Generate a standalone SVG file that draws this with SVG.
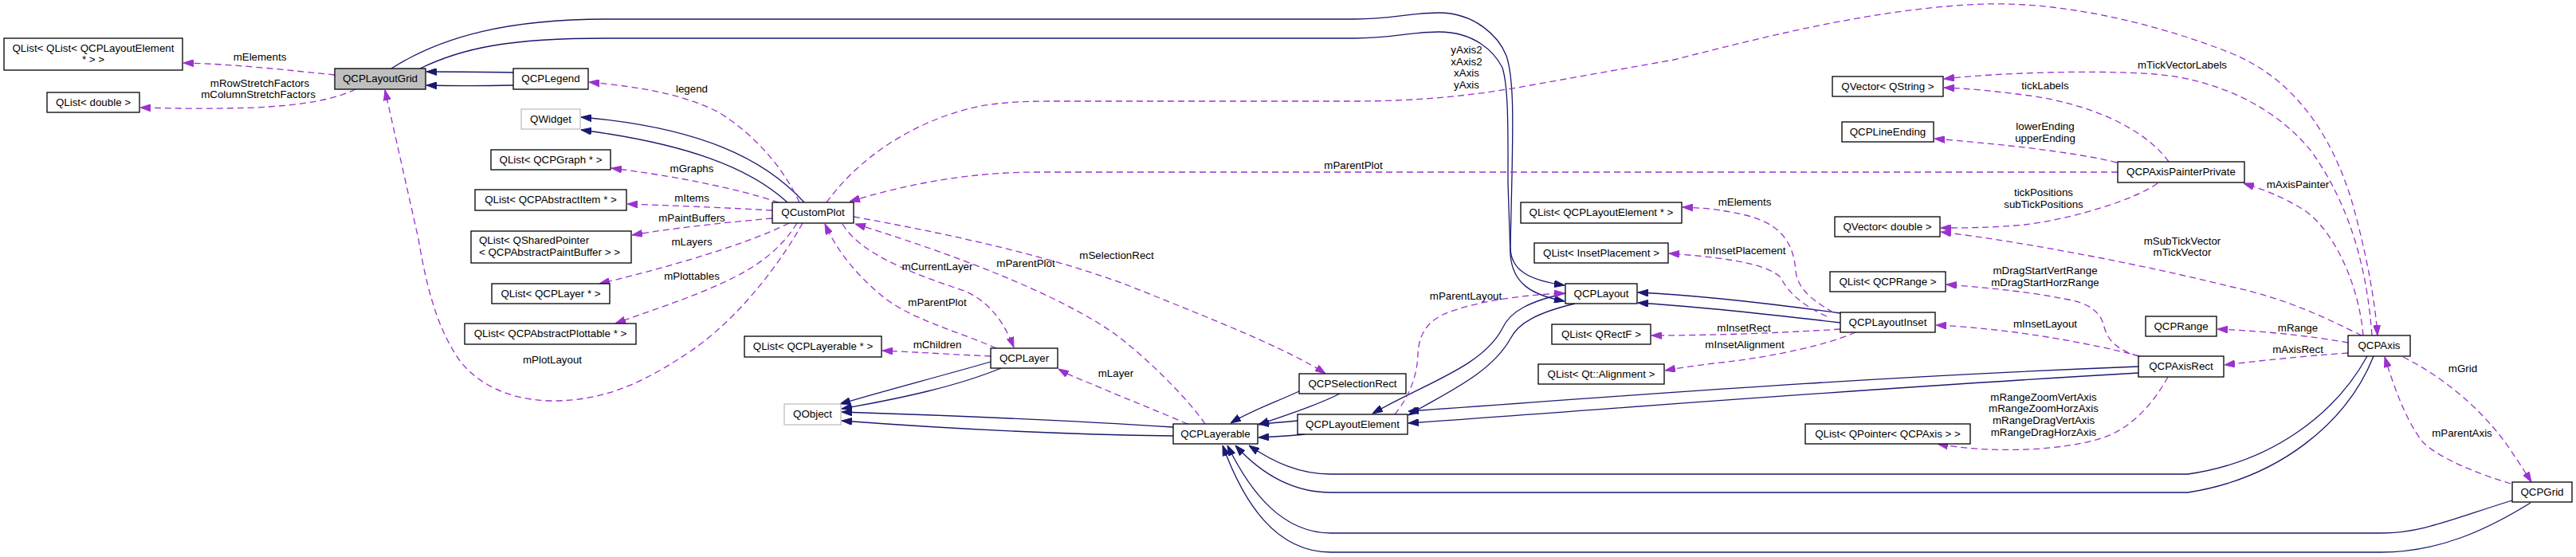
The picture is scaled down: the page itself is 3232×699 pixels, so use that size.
<svg xmlns="http://www.w3.org/2000/svg" width="3232" height="699" viewBox="0 0 3232 699">
<style>
.n rect{fill:#fff;stroke:#000;stroke-width:1.3}
.n.g rect{stroke:#bfbfbf}
.n.cur rect{fill:#bfbfbf}
text{font-family:"Liberation Sans",Arial,Helvetica,sans-serif;font-size:13.33px;fill:#000}
.n text{text-anchor:middle}
.lbl text{text-anchor:middle}
.inh{fill:none;stroke:#191970;stroke-width:1.3;marker-end:url(#ab)}
.use{fill:none;stroke:#9a32cd;stroke-width:1.3;stroke-dasharray:8,5;marker-end:url(#ap)}
</style>
<defs>
<marker id="ab" viewBox="0 0 13 9" refX="13" refY="4.5" markerWidth="13" markerHeight="9" markerUnits="userSpaceOnUse" orient="auto"><polygon points="0,0 13,4.5 0,9" fill="#191970" stroke="#191970" stroke-width="1"/></marker>
<marker id="ap" viewBox="0 0 13 9" refX="13" refY="4.5" markerWidth="13" markerHeight="9" markerUnits="userSpaceOnUse" orient="auto"><polygon points="0,0 13,4.5 0,9" fill="#9a32cd" stroke="#9a32cd" stroke-width="1"/></marker>
</defs>
<rect width="3232" height="699" fill="#fff"/>
<g id="connectors">
<!-- inheritance -->
<path class="inh" d="M644,91 C600,90 570,90 535,90"/>
<path class="inh" d="M644,107 C600,108 570,108 535,107"/>
<path class="inh" d="M1009,254 C960,200 880,160 729,147"/>
<path class="inh" d="M988,254 C940,210 860,180 729,163"/>
<path class="inh" d="M1243,454 C1170,475 1110,490 1054,507"/>
<path class="inh" d="M1256,462 C1200,485 1130,500 1056,513"/>
<path class="inh" d="M1472,536 C1300,525 1150,520 1056,517"/>
<path class="inh" d="M1472,547 C1300,545 1150,535 1056,528"/>
<path class="inh" d="M1630,491 C1600,505 1570,515 1544,531"/>
<path class="inh" d="M1681,494 C1650,510 1610,522 1579,533"/>
<path class="inh" d="M1628,528 C1610,530 1595,531 1579,532"/>
<path class="inh" d="M1637,545 C1620,547 1600,548 1579,549"/>
<path class="inh" d="M1964,368 C1920,378 1895,390 1885,412 C1860,460 1790,480 1722,519"/>
<path class="inh" d="M1976,381 C1930,392 1905,405 1895,425 C1870,470 1810,495 1767,521"/>
<path class="inh" d="M491,86 C555,45 640,24 760,24 L1700,24 C1745,24 1770,16 1805,16 C1850,16 1880,45 1890,70 C1900,100 1898,160 1897,220 L1895,310 C1895,340 1920,352 1963,358"/>
<path class="inh" d="M527,86 C580,60 640,48 760,48 L1700,48 C1745,48 1770,40 1805,40 C1850,40 1875,65 1885,85 C1893,110 1892,170 1892,230 L1895,320 C1898,355 1920,370 1963,378"/>
<path class="inh" d="M2309,393 C2200,378 2120,370 2055,367"/>
<path class="inh" d="M2309,405 C2200,392 2120,384 2055,380"/>
<path class="inh" d="M2683,460 C2300,475 2000,500 1767,516"/>
<path class="inh" d="M2683,468 C2300,490 2000,515 1767,531"/>
<path class="inh" d="M2970,447 C2930,520 2850,580 2745,595 L1670,595 C1630,595 1598,580 1567,559"/>
<path class="inh" d="M2978,447 C2945,530 2860,600 2745,618 L1670,618 C1620,618 1580,592 1550,559"/>
<path class="inh" d="M3152,628 C3080,650 3040,669 2987,669 L1670,669 C1610,669 1570,620 1540,559"/>
<path class="inh" d="M3175,631 C3120,665 3060,693 2987,693 L1670,693 C1600,693 1560,630 1534,559"/>
<!-- usage -->
<path class="use" d="M420,94 C360,88 290,80 230,79"/>
<path class="use" d="M446,112 C420,125 380,132 320,135 C260,137 220,136 176,135"/>
<path class="use" d="M1007,280 C985,320 930,400 860,445 C810,478 760,503 695,503 C640,503 598,482 575,450 C548,410 535,360 525,300 L483,113"/>
<path class="use" d="M1003,254 C985,215 950,170 900,140 C850,115 790,108 739,103"/>
<path class="use" d="M977,254 C920,235 840,220 767,211"/>
<path class="use" d="M969,264 C900,260 840,258 787,256"/>
<path class="use" d="M969,274 C900,280 840,287 793,295"/>
<path class="use" d="M990,280 C930,310 820,340 752,356"/>
<path class="use" d="M1000,280 C975,320 940,340 900,358 C860,376 810,392 772,406"/>
<path class="use" d="M1250,437 C1200,415 1140,400 1105,370 C1075,345 1050,315 1035,281"/>
<path class="use" d="M1057,281 C1080,320 1150,345 1210,365 C1245,380 1262,410 1272,436"/>
<path class="use" d="M1243,447 C1200,445 1150,442 1107,440"/>
<path class="use" d="M1512,532 C1490,500 1440,450 1400,420 C1330,370 1200,320 1073,281"/>
<path class="use" d="M1071,272 C1200,295 1330,325 1420,360 C1520,400 1620,440 1663,469"/>
<path class="use" d="M1490,532 C1450,515 1400,495 1370,482 C1350,474 1340,470 1328,463"/>
<path class="use" d="M1037,254 C1080,195 1150,150 1230,133 C1260,128 1290,127 1320,127 L1700,127 C1780,127 1850,120 1920,107 L2100,75 C2200,50 2350,10 2490,5 C2600,2 2720,35 2800,67 C2880,100 2925,170 2950,250 C2970,320 2980,380 2983,421"/>
<path class="use" d="M2976,421 C2970,340 2950,260 2900,190 C2860,140 2790,100 2703,93 C2620,87 2500,92 2439,99"/>
<path class="use" d="M2721,203 C2690,160 2620,130 2546,120 C2500,114 2470,111 2439,110"/>
<path class="use" d="M2656,204 C2600,190 2500,180 2427,174"/>
<path class="use" d="M2657,216 L1300,216 C1220,216 1140,230 1066,253"/>
<path class="use" d="M2707,230 C2680,250 2600,275 2540,282 C2500,286 2460,286 2435,286"/>
<path class="use" d="M2963,421 C2920,400 2870,375 2800,360 C2700,335 2550,305 2435,291"/>
<path class="use" d="M2965,421 C2960,360 2930,290 2890,263 C2860,245 2840,238 2815,230"/>
<path class="use" d="M2946,430 C2900,422 2850,416 2782,413"/>
<path class="use" d="M2946,443 C2890,447 2840,452 2791,458"/>
<path class="use" d="M3015,448 C3070,475 3120,520 3150,565 C3162,583 3170,595 3176,605"/>
<path class="use" d="M3150,607 C3110,595 3060,575 3040,555 C3020,530 3005,490 2992,448"/>
<path class="use" d="M2683,447 C2660,440 2645,430 2640,410 C2635,390 2620,380 2590,375 C2540,365 2480,360 2442,357"/>
<path class="use" d="M2685,447 C2620,430 2520,412 2429,408"/>
<path class="use" d="M2720,473 C2700,510 2670,540 2636,550 C2590,565 2500,570 2431,557"/>
<path class="use" d="M2300,392 C2270,375 2255,360 2253,340 C2250,300 2230,280 2190,270 C2160,263 2140,261 2111,260"/>
<path class="use" d="M2292,397 C2265,385 2245,370 2234,348 C2220,335 2190,325 2094,318"/>
<path class="use" d="M2309,413 C2230,418 2150,421 2072,421"/>
<path class="use" d="M2328,417 C2300,430 2230,448 2150,456 C2120,460 2105,462 2089,465"/>
<path class="use" d="M1750,520 C1770,495 1778,470 1779,445 C1780,420 1790,405 1810,395 C1850,378 1910,370 1963,368"/>
</g>
<g id="edge-labels" class="lbl">
<text x="326" y="75.5">mElements</text>
<text x="326" y="108.5">mRowStretchFactors</text>
<text x="324" y="123">mColumnStretchFactors</text>
<text x="693" y="455.5">mPlotLayout</text>
<text x="868" y="115.5">legend</text>
<text x="868" y="215.5">mGraphs</text>
<text x="868" y="252.5">mItems</text>
<text x="868" y="278">mPaintBuffers</text>
<text x="868" y="307.5">mLayers</text>
<text x="868" y="350.5">mPlottables</text>
<text x="1176" y="384">mParentPlot</text>
<text x="1176" y="339">mCurrentLayer</text>
<text x="1176" y="436.5">mChildren</text>
<text x="1287" y="335">mParentPlot</text>
<text x="1401" y="325">mSelectionRect</text>
<text x="1400" y="472.5">mLayer</text>
<text x="1840" y="67">yAxis2</text>
<text x="1840" y="82">xAxis2</text>
<text x="1840" y="96">xAxis</text>
<text x="1840" y="111">yAxis</text>
<text x="1698" y="212">mParentPlot</text>
<text x="1839" y="375.5">mParentLayout</text>
<text x="2738" y="86">mTickVectorLabels</text>
<text x="2566" y="111.5">tickLabels</text>
<text x="2566" y="162.5">lowerEnding</text>
<text x="2566" y="178">upperEnding</text>
<text x="2564" y="246">tickPositions</text>
<text x="2564" y="260.5">subTickPositions</text>
<text x="2738" y="306.5">mSubTickVector</text>
<text x="2738" y="320.5">mTickVector</text>
<text x="2883" y="236">mAxisPainter</text>
<text x="2883" y="416">mRange</text>
<text x="2883" y="443">mAxisRect</text>
<text x="3090" y="467">mGrid</text>
<text x="3089" y="548">mParentAxis</text>
<text x="2566" y="344">mDragStartVertRange</text>
<text x="2566" y="359">mDragStartHorzRange</text>
<text x="2566" y="411">mInsetLayout</text>
<text x="2564" y="502.5">mRangeZoomVertAxis</text>
<text x="2564" y="517">mRangeZoomHorzAxis</text>
<text x="2564" y="532">mRangeDragVertAxis</text>
<text x="2564" y="546.5">mRangeDragHorzAxis</text>
<text x="2189" y="258">mElements</text>
<text x="2189" y="318.5">mInsetPlacement</text>
<text x="2188" y="415.5">mInsetRect</text>
<text x="2189" y="437">mInsetAlignment</text>
</g>
<g id="node-qlist-qlist-layoutelement" class="n"><rect x="5" y="48" width="224" height="40"/><text x="117" y="64.5">QList&lt; QList&lt; QCPLayoutElement</text><text x="117" y="79">* &gt; &gt;</text></g>
<g id="node-qlist-double" class="n"><rect x="59" y="116" width="116" height="25"/><text x="117" y="132.5">QList&lt; double &gt;</text></g>
<g id="node-qcplayoutgrid" class="n cur"><rect x="420" y="86" width="114" height="26"/><text x="477" y="103">QCPLayoutGrid</text></g>
<g id="node-qcplegend" class="n"><rect x="644" y="86" width="94" height="26"/><text x="691" y="103">QCPLegend</text></g>
<g id="node-qwidget" class="n g"><rect x="654" y="137" width="74" height="25"/><text x="691" y="153.5">QWidget</text></g>
<g id="node-qlist-graph" class="n"><rect x="616" y="188" width="150" height="25"/><text x="691" y="204.5">QList&lt; QCPGraph * &gt;</text></g>
<g id="node-qlist-abstractitem" class="n"><rect x="596" y="238" width="190" height="26"/><text x="691" y="255">QList&lt; QCPAbstractItem * &gt;</text></g>
<g id="node-qlist-paintbuffer" class="n"><rect x="591" y="290" width="201" height="40"/><text x="601" y="306" style="text-anchor:start">QList&lt; QSharedPointer</text><text x="601" y="320.5" style="text-anchor:start">&lt; QCPAbstractPaintBuffer &gt; &gt;</text></g>
<g id="node-qlist-layer" class="n"><rect x="617" y="356" width="148" height="25"/><text x="691" y="372.5">QList&lt; QCPLayer * &gt;</text></g>
<g id="node-qlist-plottable" class="n"><rect x="583" y="406" width="215" height="26"/><text x="690.5" y="423">QList&lt; QCPAbstractPlottable * &gt;</text></g>
<g id="node-qcustomplot" class="n"><rect x="969" y="254" width="102" height="26"/><text x="1020" y="271">QCustomPlot</text></g>
<g id="node-qlist-layerable" class="n"><rect x="934" y="422" width="172" height="26"/><text x="1020" y="439">QList&lt; QCPLayerable * &gt;</text></g>
<g id="node-qcplayer" class="n"><rect x="1243" y="437" width="84" height="25"/><text x="1285" y="453.5">QCPLayer</text></g>
<g id="node-qobject" class="n g"><rect x="984" y="507" width="71" height="26"/><text x="1019.5" y="524">QObject</text></g>
<g id="node-qcpselectionrect" class="n"><rect x="1630" y="469" width="134" height="25"/><text x="1697" y="485.5">QCPSelectionRect</text></g>
<g id="node-qcplayerable" class="n"><rect x="1472" y="532" width="106" height="25"/><text x="1525" y="548.5">QCPLayerable</text></g>
<g id="node-qcplayoutelement" class="n"><rect x="1628" y="520" width="138" height="25"/><text x="1697" y="536.5">QCPLayoutElement</text></g>
<g id="node-qcplayout" class="n"><rect x="1964" y="356" width="90" height="25"/><text x="2009" y="372.5">QCPLayout</text></g>
<g id="node-qlist-layoutelement" class="n"><rect x="1908" y="254" width="202" height="26"/><text x="2009" y="271">QList&lt; QCPLayoutElement * &gt;</text></g>
<g id="node-qlist-insetplacement" class="n"><rect x="1925" y="305" width="168" height="25"/><text x="2009" y="321.5">QList&lt; InsetPlacement &gt;</text></g>
<g id="node-qlist-qrectf" class="n"><rect x="1947" y="407" width="124" height="25"/><text x="2009" y="423.5">QList&lt; QRectF &gt;</text></g>
<g id="node-qlist-alignment" class="n"><rect x="1930" y="457" width="158" height="25"/><text x="2009" y="473.5">QList&lt; Qt::Alignment &gt;</text></g>
<g id="node-qvector-qstring" class="n"><rect x="2299" y="96" width="139" height="25"/><text x="2368.5" y="112.5">QVector&lt; QString &gt;</text></g>
<g id="node-qcplineending" class="n"><rect x="2311" y="153" width="115" height="25"/><text x="2368.5" y="169.5">QCPLineEnding</text></g>
<g id="node-qcpaxispainterprivate" class="n"><rect x="2657" y="203" width="159" height="26"/><text x="2736.5" y="220">QCPAxisPainterPrivate</text></g>
<g id="node-qvector-double" class="n"><rect x="2302" y="272" width="132" height="25"/><text x="2368" y="288.5">QVector&lt; double &gt;</text></g>
<g id="node-qlist-qcprange" class="n"><rect x="2296" y="341" width="145" height="25"/><text x="2368.5" y="357.5">QList&lt; QCPRange &gt;</text></g>
<g id="node-qcplayoutinset" class="n"><rect x="2309" y="392" width="119" height="25"/><text x="2368.5" y="408.5">QCPLayoutInset</text></g>
<g id="node-qcprange" class="n"><rect x="2692" y="397" width="89" height="25"/><text x="2736.5" y="413.5">QCPRange</text></g>
<g id="node-qcpaxisrect" class="n"><rect x="2683" y="447" width="107" height="26"/><text x="2736.5" y="464">QCPAxisRect</text></g>
<g id="node-qlist-qpointer-axis" class="n"><rect x="2265" y="532" width="207" height="25"/><text x="2368.5" y="548.5">QList&lt; QPointer&lt; QCPAxis &gt; &gt;</text></g>
<g id="node-qcpaxis" class="n"><rect x="2946" y="421" width="78" height="26"/><text x="2985" y="438">QCPAxis</text></g>
<g id="node-qcpgrid" class="n"><rect x="3152" y="605" width="75" height="25"/><text x="3189.5" y="621.5">QCPGrid</text></g>
</svg>
